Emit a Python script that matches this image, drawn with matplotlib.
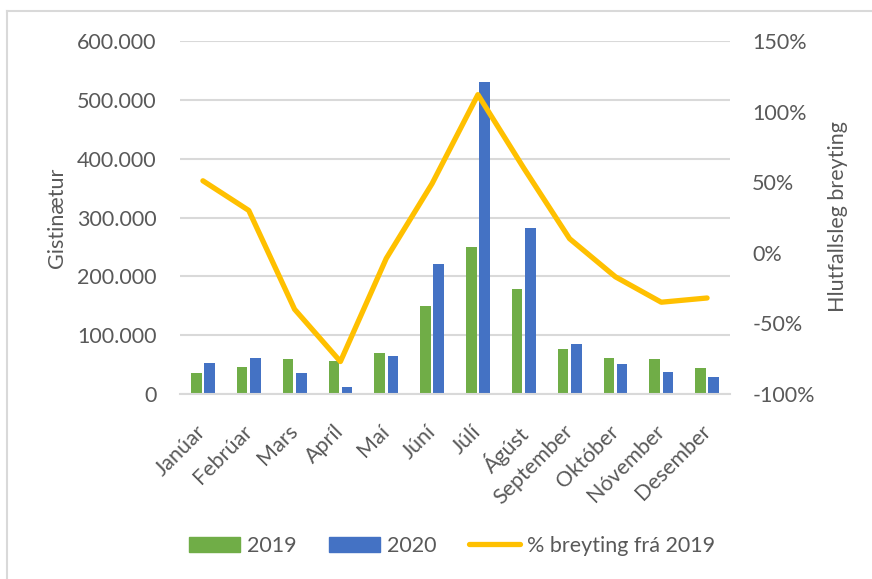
import matplotlib.pyplot as plt
import matplotlib.transforms as mtransforms
import numpy as np
from matplotlib.lines import Line2D
from matplotlib.patches import Patch
from matplotlib.ticker import FuncFormatter

plt.rcParams['font.family'] = ['Lato', 'DejaVu Sans']

months = ['Janúar', 'Febrúar', 'Mars', 'Apríl', 'Maí', 'Júní', 'Júlí', 'Ágúst',
          'September', 'Október', 'Nóvember', 'Desember']
nights_2019 = [35000, 46000, 59500, 56000, 70000, 149000, 250000, 178000, 76500, 60600, 59000, 44000]
nights_2020 = [53000, 60500, 36000, 12000, 65000, 221000, 530000, 283000, 84500, 50500, 38000, 29500]
pct_change = [51, 30, -40, -77, -4, 49, 112, 60, 10, -17, -35, -32]

GREEN = '#70AD47'
BLUE = '#4472C4'
YELLOW = '#FFC000'
TXT = '#595959'
GRID = '#D9D9D9'
FS = 15.5

fig = plt.figure(figsize=(8.72, 5.79), dpi=100)
ax = fig.add_axes([180 / 872, 1 - 394 / 579, 550 / 872, 353 / 579])
ax2 = ax.twinx()

x = np.arange(len(months))
w = 0.23
ax.bar(x - 0.145, nights_2019, w, color=GREEN, zorder=2)
ax.bar(x + 0.145, nights_2020, w, color=BLUE, zorder=2)
ax2.plot(x, np.array(pct_change) / 100, color=YELLOW, lw=3.8,
         solid_joinstyle='round', solid_capstyle='round', zorder=3)

ax.set_xlim(-0.5, 11.5)
ax.set_ylim(0, 600000)
ax.set_yticks(np.arange(0, 600001, 100000))
ax.yaxis.set_major_formatter(FuncFormatter(lambda v, p: f'{int(v):,}'.replace(',', '.')))
ax.grid(axis='y', color=GRID, lw=1.5, zorder=0)
ax.set_axisbelow(True)

ax2.set_ylim(-1, 1.5)
ax2.set_yticks(np.arange(-1, 1.51, 0.5))
ax2.yaxis.set_major_formatter(FuncFormatter(lambda v, p: f'{int(round(v * 100))}%'))

for a in (ax, ax2):
    for s in a.spines.values():
        s.set_visible(False)
    a.tick_params(length=0, labelsize=FS, labelcolor=TXT)
ax.spines['bottom'].set_visible(True)
ax.spines['bottom'].set_color(GRID)
ax.spines['bottom'].set_linewidth(1.5)

ax.tick_params(axis='y', pad=17)
ax2.tick_params(axis='y', pad=16)
ax.set_xticks(x)
ax.set_xticklabels(months, rotation=45, ha='right', va='top', rotation_mode='anchor')
ax.tick_params(axis='x', pad=16)
shift = mtransforms.ScaledTranslation(-7 / 100, -5 / 100, fig.dpi_scale_trans)
for lbl in ax.get_xticklabels():
    lbl.set_transform(lbl.get_transform() + shift)

fig.text(57 / 872, 1 - 218 / 579, 'Gistinætur', rotation=90, ha='center', va='center',
         fontsize=FS, color=TXT)
fig.text(838 / 872, 1 - 217 / 579, 'Hlutfallsleg breyting', rotation=90, ha='center',
         va='center', fontsize=FS, color=TXT)

handles = [Patch(color=GREEN), Patch(color=BLUE),
           Line2D([], [], color=YELLOW, lw=3.8, solid_capstyle='round')]
fig.legend(handles, ['2019', '2020', '% breyting frá 2019'], loc='center',
           bbox_to_anchor=(0.518, 1 - 546 / 579), ncol=3, frameon=False,
           fontsize=FS, labelcolor=TXT, handlelength=2.4, handletextpad=0.3,
           columnspacing=1.5)

# chart frame (only top and left edges visible)
fig.add_artist(Line2D([7 / 872, 7 / 872], [0, 1 - 11 / 579], color=GRID, lw=1.5))
fig.add_artist(Line2D([7 / 872, 1], [1 - 11 / 579, 1 - 11 / 579], color=GRID, lw=1.5))

plt.savefig('out.png', dpi=100)
